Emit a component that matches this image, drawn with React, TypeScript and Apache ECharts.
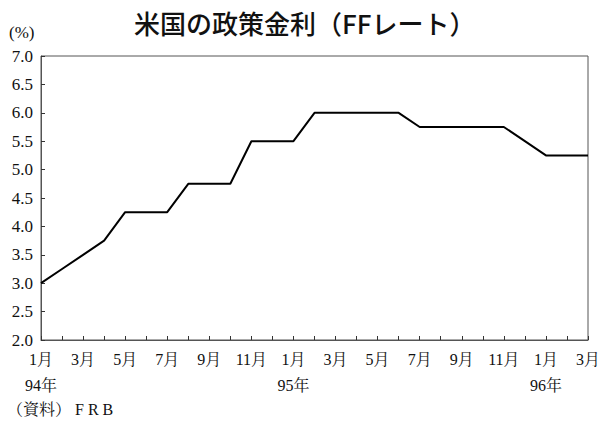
import React, { useEffect, useRef } from "react";
import * as echarts from "echarts";

const monthLabels = [
  "1月", "2月", "3月", "4月", "5月", "6月", "7月", "8月", "9月", "10月", "11月", "12月",
  "1月", "2月", "3月", "4月", "5月", "6月", "7月", "8月", "9月", "10月", "11月", "12月",
  "1月", "2月", "3月",
];
const yearLabels: Record<number, string> = { 0: "94年", 12: "95年", 24: "96年" };
const ffRate = [
  3.0, 3.25, 3.5, 3.75, 4.25, 4.25, 4.25, 4.75, 4.75, 4.75, 5.5, 5.5,
  5.5, 6.0, 6.0, 6.0, 6.0, 6.0, 5.75, 5.75, 5.75, 5.75, 5.75, 5.5,
  5.25, 5.25, 5.25,
];
const titleText = "米国の政策金利（FFレート）";
const unitText = "(%)";
const sourceText = "（資料） F R B";

const serif = "'Liberation Serif', 'Noto Serif CJK JP', 'Noto Sans CJK JP', serif";
const gothic = "'Noto Sans CJK JP', sans-serif";

export default function App() {
  const ref = useRef<HTMLDivElement>(null);
  useEffect(() => {
    if (!ref.current) return;
    const chart = echarts.init(ref.current, undefined, { renderer: "svg" });
    chart.setOption({
      animation: false,
      backgroundColor: "#fff",
      grid: {
        left: 41,
        right: 15,
        top: 56,
        bottom: 85,
        show: true,
        borderColor: "#555",
        borderWidth: 1,
      },
      graphic: [
        {
          type: "text",
          left: 134,
          top: 9,
          style: { text: titleText, font: `500 26px ${gothic}`, fill: "#111" },
        },
        {
          type: "text",
          left: 9,
          top: 24,
          style: { text: unitText, font: `17px ${serif}`, fill: "#111" },
        },
        {
          type: "text",
          left: 7,
          top: 401,
          style: { text: sourceText, font: `16px ${serif}`, fill: "#111" },
        },
      ],
      xAxis: {
        type: "category",
        data: monthLabels,
        boundaryGap: false,
        axisLine: { lineStyle: { color: "#555", width: 1 } },
        axisTick: { inside: true, length: 4, interval: 0, lineStyle: { color: "#333" } },
        axisLabel: {
          interval: 1,
          margin: 6,
          lineHeight: 26,
          fontSize: 16,
          fontFamily: serif,
          color: "#111",
          formatter: (v: string, i: number) => (yearLabels[i] ? `${v}\n${yearLabels[i]}` : v),
        },
        splitLine: { show: false },
      },
      yAxis: {
        type: "value",
        min: 2,
        max: 7,
        interval: 0.5,
        axisLine: { show: true, lineStyle: { color: "#555", width: 1 } },
        axisTick: { show: true, inside: true, length: 4, lineStyle: { color: "#333" } },
        axisLabel: {
          margin: 8,
          fontSize: 17,
          fontFamily: serif,
          color: "#111",
          formatter: (v: number) => v.toFixed(1),
        },
        splitLine: { show: false },
      },
      series: [
        {
          type: "line",
          data: ffRate,
          showSymbol: false,
          symbol: "none",
          lineStyle: { color: "#000", width: 2 },
        },
      ],
    });
    return () => chart.dispose();
  }, []);
  return <div ref={ref} style={{ width: 603, height: 425, position: "absolute", left: 0, top: 0 }} />;
}
